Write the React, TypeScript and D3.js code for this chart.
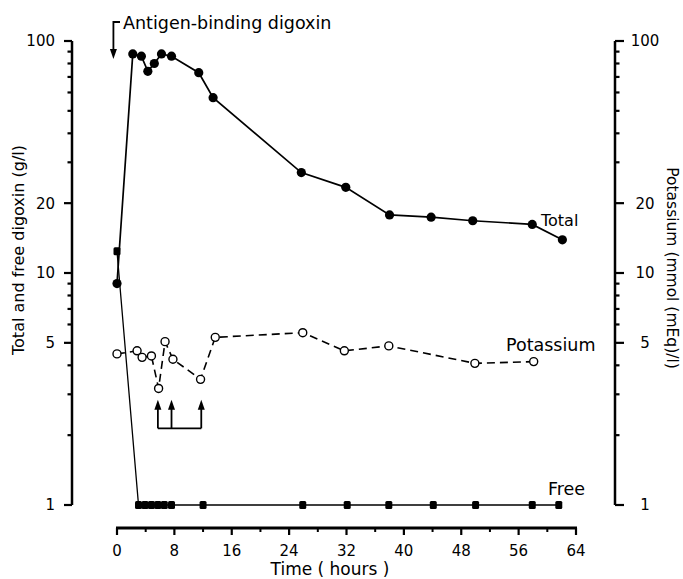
import React from 'react'
import * as d3 from 'd3'

// values (time in hours, concentrations on log scale)
const totalTimes = [0, 2.2, 3.4, 4.3, 5.2, 6.2, 7.6, 11.4, 13.4, 25.7, 31.9, 38.0, 43.8, 49.6, 57.9, 62.1]
const totalValues = [9.0, 88, 86, 74, 80, 88, 86, 73, 57, 27.1, 23.4, 17.8, 17.4, 16.8, 16.2, 13.9]

const freeTimes = [0, 3.0, 3.9, 4.8, 5.7, 6.6, 7.6, 12.0, 25.9, 32.1, 37.9, 44.1, 50.0, 57.9, 61.6]
const freeValues = [12.4, 1, 1, 1, 1, 1, 1, 1, 1, 1, 1, 1, 1, 1, 1]

const potassiumTimes = [0, 2.8, 3.5, 4.8, 5.8, 6.7, 7.8, 11.65, 13.7, 25.9, 31.7, 37.9, 49.9, 58.1]
const potassiumValues = [4.48, 4.62, 4.33, 4.39, 3.18, 5.06, 4.25, 3.48, 5.28, 5.53, 4.62, 4.85, 4.08, 4.15]

const injectionTimes = [5.7, 7.6, 11.75]
const injectionLevels = [2.14, 2.84]

const xTicks = [0, 8, 16, 24, 32, 40, 48, 56, 64]
const xMinorTicks = [4, 12, 20, 28, 36, 44, 52, 60]
const yLabels = [1, 5, 10, 20, 100]

const W = 683
const H = 579
const font = 'DejaVu Sans, sans-serif'

export default function App() {
  const x = d3.scaleLinear().domain([0, 64]).range([117, 576])
  const y = d3.scaleLog().domain([1, 100]).range([505, 41])

  const yTicks: number[] = []
  ;[1, 10].forEach(d => { for (let k = 1; k <= 10; k++) if (!(d === 10 && k === 1)) yTicks.push(d * k) })

  const line = d3.line<[number, number]>().x(d => x(d[0])).y(d => y(d[1]))
  const total = totalTimes.map((t, i) => [t, totalValues[i]] as [number, number])
  const free = freeTimes.map((t, i) => [t, freeValues[i]] as [number, number])
  const pot = potassiumTimes.map((t, i) => [t, potassiumValues[i]] as [number, number])

  const leftX = 72
  const rightX = 615
  const axisY = 528

  const arrowHead = (cx: number, tip: number, w: number, h: number) =>
    `M${cx},${tip} L${cx - w / 2},${tip + h} L${cx + w / 2},${tip + h} Z`

  return (
    <svg width={W} height={H} style={{ position: 'absolute', left: 0, top: 0, background: '#fff' }}
      fontFamily={font}>
      {/* left axis */}
      <line x1={leftX} x2={leftX} y1={y(100)} y2={y(1)} stroke="#000" strokeWidth={2.5} />
      {yTicks.map(d => (
        <line key={'l' + d} x1={leftX} x2={leftX - (yLabels.includes(d) ? 8 : 4.5)} y1={y(d)} y2={y(d)}
          stroke="#000" strokeWidth={2.2} />
      ))}
      {yLabels.map(d => (
        <text key={'ll' + d} x={55} y={y(d)} dy="0.36em" textAnchor="end" fontSize={15}>{d}</text>
      ))}
      <text transform="translate(24,250) rotate(-90)" textAnchor="middle" fontSize={16}>
        Total and free digoxin (g/l)
      </text>

      {/* right axis */}
      <line x1={rightX} x2={rightX} y1={y(100)} y2={y(1)} stroke="#000" strokeWidth={2.5} />
      {yTicks.map(d => (
        <line key={'r' + d} x1={rightX} x2={rightX + (yLabels.includes(d) ? 9 : 4.5)} y1={y(d)} y2={y(d)}
          stroke="#000" strokeWidth={2.2} />
      ))}
      {yLabels.map(d => (
        <text key={'rl' + d} x={645} y={y(d)} dy="0.36em" textAnchor="middle" fontSize={15}>{d}</text>
      ))}
      <text transform="translate(667,268) rotate(90)" textAnchor="middle" fontSize={15.5}>
        Potassium (mmol (mEq)/l)
      </text>

      {/* x axis */}
      <line x1={x(0) - 1} x2={x(64) + 1} y1={axisY} y2={axisY} stroke="#000" strokeWidth={2.8} />
      {xTicks.map(d => (
        <line key={'x' + d} x1={x(d)} x2={x(d)} y1={axisY} y2={axisY + 7} stroke="#000" strokeWidth={2.2} />
      ))}
      {xMinorTicks.map(d => (
        <line key={'xm' + d} x1={x(d)} x2={x(d)} y1={axisY} y2={axisY + 4} stroke="#000" strokeWidth={2} />
      ))}
      {xTicks.map(d => (
        <text key={'xl' + d} x={x(d)} y={556} textAnchor="middle" fontSize={15}>{d}</text>
      ))}
      <text x={330} y={575} textAnchor="middle" fontSize={17}>Time ( hours )</text>

      {/* free digoxin */}
      <path d={line(free) ?? ''} fill="none" stroke="#000" strokeWidth={1.3} />
      {free.map((d, i) => (
        <rect key={'f' + i} x={x(d[0]) - 3.5} y={y(d[1]) - 4} width={7} height={8} rx={1.5} fill="#000" />
      ))}

      {/* total digoxin */}
      <path d={line(total) ?? ''} fill="none" stroke="#000" strokeWidth={1.7} />
      {total.map((d, i) => (
        <circle key={'t' + i} cx={x(d[0])} cy={y(d[1])} r={4.6} fill="#000" />
      ))}

      {/* potassium */}
      <path d={line(pot) ?? ''} fill="none" stroke="#000" strokeWidth={1.6} strokeDasharray="8,5" />
      {pot.map((d, i) => (
        <circle key={'p' + i} cx={x(d[0])} cy={y(d[1])} r={4} fill="#fff" stroke="#000" strokeWidth={1.4} />
      ))}

      {/* injection arrows */}
      <line x1={x(injectionTimes[0])} x2={x(injectionTimes[injectionTimes.length - 1])}
        y1={y(injectionLevels[0])} y2={y(injectionLevels[0])} stroke="#000" strokeWidth={1.8} />
      {injectionTimes.map(t => (
        <g key={'a' + t}>
          <line x1={x(t)} x2={x(t)} y1={y(injectionLevels[0])} y2={y(injectionLevels[1]) + 6}
            stroke="#000" strokeWidth={1.8} />
          <path d={arrowHead(x(t), y(injectionLevels[1]), 7, 10)} fill="#000" />
        </g>
      ))}

      {/* antigen-binding annotation */}
      <path d={`M${x(0) + 3},22 L${x(-0.5)},22 L${x(-0.5)},50`} fill="none" stroke="#000" strokeWidth={1.8} />
      <path d={arrowHead(x(-0.5), 0, 7, 10)} transform={`translate(0,${59}) scale(1,-1)`} fill="#000" />
      <text x={123} y={29} fontSize={17.5}>Antigen-binding digoxin</text>

      {/* series labels */}
      <text x={541} y={226} fontSize={16}>Total</text>
      <text x={506} y={351} fontSize={17.5}>Potassium</text>
      <text x={548} y={495} fontSize={17.5}>Free</text>
    </svg>
  )
}
